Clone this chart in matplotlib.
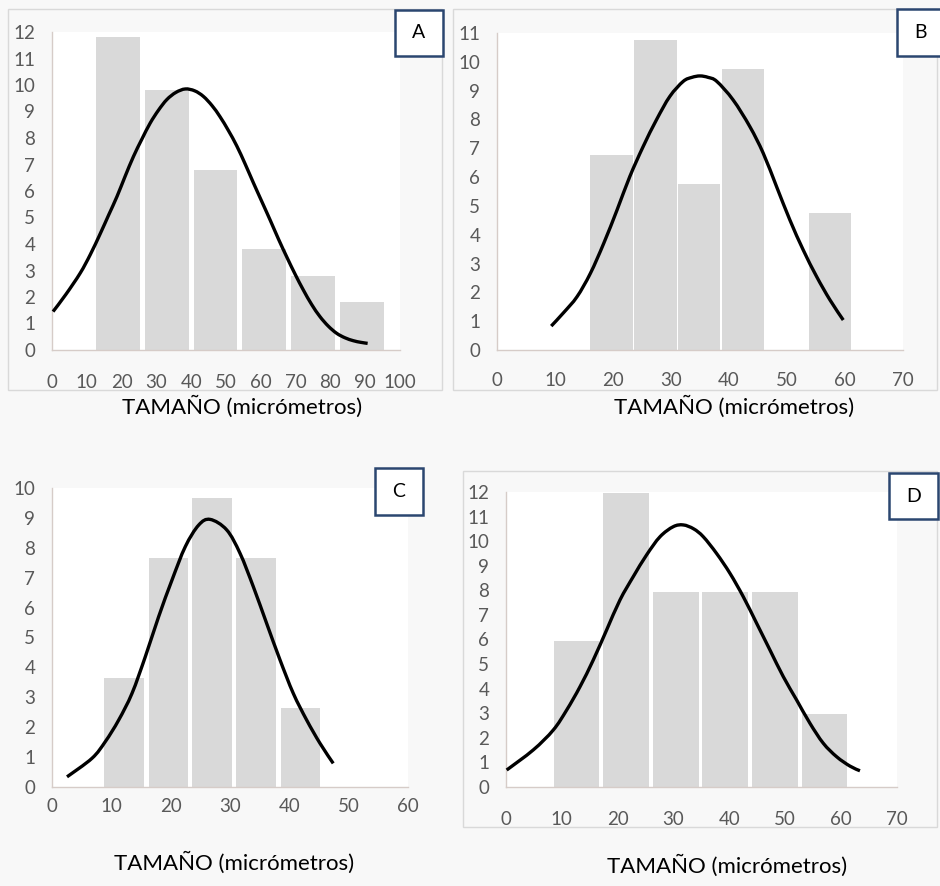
import matplotlib
matplotlib.use("Agg")
import matplotlib.pyplot as plt
from matplotlib.patches import Rectangle, PathPatch
from matplotlib.path import Path

# --- datos ---
# A
a_bar_x = [19.0, 33.0, 47.0, 61.0, 75.0, 89.0]
a_bar_h = [11.8, 9.8, 6.8, 3.8, 2.8, 1.8]
a_curve_x = [0.3, 4.0, 8.1, 11.0, 13.9, 16.3, 18.7, 21.0, 23.4, 25.8, 28.2, 30.6, 33.0,
             35.6, 38.3, 41.0, 43.5, 46.0, 48.3, 50.7, 53.1, 55.5, 57.9, 60.3, 62.7,
             65.1, 67.5, 69.9, 72.2, 74.6, 77.0, 79.4, 81.8, 84.2, 86.6, 88.7, 90.7]
a_curve_y = [1.45, 2.1, 2.9, 3.6, 4.4, 5.1, 5.8, 6.55, 7.3, 7.95, 8.56, 9.05, 9.45,
             9.72, 9.85, 9.78, 9.57, 9.22, 8.8, 8.28, 7.7, 7.02, 6.3, 5.6, 4.9,
             4.18, 3.5, 2.85, 2.27, 1.72, 1.26, 0.9, 0.63, 0.46, 0.35, 0.29, 0.25]

# B
b_bar_x = [19.75, 27.3, 34.8, 42.4, 50.0, 57.45]
b_bar_h = [6.75, 10.75, 5.75, 9.75, 0.0, 4.75]
b_curve_x = [9.35, 11.5, 13.8, 16.1, 18.4, 20.7, 22.9, 25.2, 27.5, 29.8, 32.1, 33.6,
             35.0, 36.4, 37.9, 40.7, 43.6, 45.9, 48.2, 50.5, 52.8, 55.1, 57.4, 59.7]
b_curve_y = [0.83, 1.3, 1.85, 2.66, 3.7, 4.86, 6.02, 7.06, 7.99, 8.8, 9.32, 9.46,
             9.51, 9.46, 9.32, 8.68, 7.75, 6.83, 5.67, 4.51, 3.47, 2.55, 1.74, 1.04]

# C
c_bar_x = [12.15, 19.65, 27.0, 34.4, 41.9]
c_bar_h = [3.65, 7.65, 9.65, 7.65, 2.65]
c_curve_x = [2.53, 6.74, 8.99, 11.24, 13.48, 15.73, 17.98, 20.22, 22.47, 24.72, 26.65,
             29.44, 31.68, 33.93, 36.18, 38.43, 40.67, 42.92, 45.17, 47.4]
c_curve_y = [0.34, 0.96, 1.52, 2.24, 3.13, 4.36, 5.7, 6.92, 8.04, 8.76, 8.95,
             8.6, 7.82, 6.7, 5.47, 4.25, 3.13, 2.24, 1.46, 0.79]

# D
d_bar_x = [12.6, 21.5, 30.45, 39.25, 48.2, 57.05]
d_bar_h = [5.95, 11.95, 7.95, 7.95, 7.95, 2.95]
d_curve_x = [0.12, 4.89, 8.47, 10.86, 13.25, 15.63, 18.02, 20.41, 22.79, 25.17, 27.57,
             29.95, 31.74, 33.6, 35.32, 37.7, 40.1, 42.48, 44.87, 47.26, 49.64, 52.03,
             54.42, 56.8, 59.2, 61.58, 63.37]
d_curve_y = [0.69, 1.51, 2.32, 3.13, 4.08, 5.17, 6.39, 7.61, 8.56, 9.44, 10.18,
             10.59, 10.66, 10.5, 10.18, 9.5, 8.69, 7.74, 6.66, 5.57, 4.49, 3.54,
             2.59, 1.78, 1.23, 0.85, 0.66]

xlabel = "TAMAÑO (micrómetros)"

W, H = 940, 886
plt.rcParams['font.family'] = ['Lato', 'DejaVu Sans']
fig = plt.figure(figsize=(W / 100, H / 100), dpi=100, facecolor='#f8f8f8')


def px_rect(left, top, right, bottom):
    return [left / W, 1 - bottom / H, (right - left) / W, (bottom - top) / H]


def panel_border(left, top, right, bottom):
    fig.patches.append(Rectangle((left / W, 1 - bottom / H), (right - left) / W,
                                 (bottom - top) / H, transform=fig.transFigure,
                                 fill=False, edgecolor='#d9d9d9', linewidth=1.0))


def letter_box(text, left, top, right, bottom):
    fig.patches.append(Rectangle((left / W, 1 - bottom / H), (right - left) / W,
                                 (bottom - top) / H, transform=fig.transFigure,
                                 facecolor='white', edgecolor='#2b4670', linewidth=1.8,
                                 zorder=5))
    fig.text((left + right) / 2 / W, 1 - (top + bottom) / 2 / H, text,
             ha='center', va='center', fontsize=14, color='black', zorder=6)


def smooth_path(xs, ys):
    # línea suavizada tipo Excel: segmentos Bézier (Catmull-Rom) por los puntos leídos
    pts = list(zip(xs, ys))
    verts = [pts[0]]
    codes = [Path.MOVETO]
    n = len(pts)
    for i in range(n - 1):
        p0 = pts[i - 1] if i > 0 else pts[i]
        p1 = pts[i]
        p2 = pts[i + 1]
        p3 = pts[i + 2] if i + 2 < n else pts[i + 1]
        c1 = (p1[0] + (p2[0] - p0[0]) / 6, p1[1] + (p2[1] - p0[1]) / 6)
        c2 = (p2[0] - (p3[0] - p1[0]) / 6, p2[1] - (p3[1] - p1[1]) / 6)
        verts += [c1, c2, p2]
        codes += [Path.CURVE4] * 3
    return Path(verts, codes)


def histo(rect, bx, bh, width, cx, cy, xmax, xstep, ymax, xpad):
    ax = fig.add_axes(px_rect(*rect))
    ax.set_facecolor('white')
    ax.bar(bx, bh, width=width, color='#d9d9d9', zorder=1)
    ax.add_patch(PathPatch(smooth_path(cx, cy), fill=False, edgecolor='black',
                           linewidth=2.4, capstyle='butt', zorder=3, clip_on=False))
    ax.set_xlim(0, xmax)
    ax.set_ylim(0, ymax)
    ax.set_xticks(range(0, xmax + 1, xstep))
    ax.set_yticks(range(0, ymax + 1))
    for s in ['top', 'right']:
        ax.spines[s].set_visible(False)
    for s in ['left', 'bottom']:
        ax.spines[s].set_color('#d6ccc8')
        ax.spines[s].set_linewidth(1.0)
    ax.tick_params(axis='both', length=0, labelsize=13.5, colors='#595959')
    ax.tick_params(axis='x', pad=xpad)
    ax.tick_params(axis='y', pad=12)
    return ax


# bordes de los paneles
panel_border(8, 9, 442, 390)
panel_border(453, 9, 937, 390)
panel_border(463, 471, 937, 827)

histo((52, 32, 400, 350), a_bar_x, a_bar_h, 12.6, a_curve_x, a_curve_y, 100, 10, 12, 17)
histo((497, 33, 903, 350), b_bar_x, b_bar_h, 7.3, b_curve_x, b_curve_y, 70, 10, 11, 16)
histo((52, 488, 408, 787), c_bar_x, c_bar_h, 6.7, c_curve_x, c_curve_y, 60, 10, 10, 8)
histo((506, 492, 897, 787), d_bar_x, d_bar_h, 8.15, d_curve_x, d_curve_y, 70, 10, 12, 17)

letter_box("A", 395, 10, 443, 56)
letter_box("B", 897, 9, 945, 56)
letter_box("C", 375, 468, 423, 515)
letter_box("D", 889, 473, 938, 519)

fig.text(242 / W, 1 - 407 / H, xlabel, ha='center', va='center', fontsize=16, color='black')
fig.text(734 / W, 1 - 407 / H, xlabel, ha='center', va='center', fontsize=16, color='black')
fig.text(234 / W, 1 - 863 / H, xlabel, ha='center', va='center', fontsize=16, color='black')
fig.text(727 / W, 1 - 866 / H, xlabel, ha='center', va='center', fontsize=16, color='black')

fig.savefig("out.png", dpi=100, facecolor=fig.get_facecolor())
